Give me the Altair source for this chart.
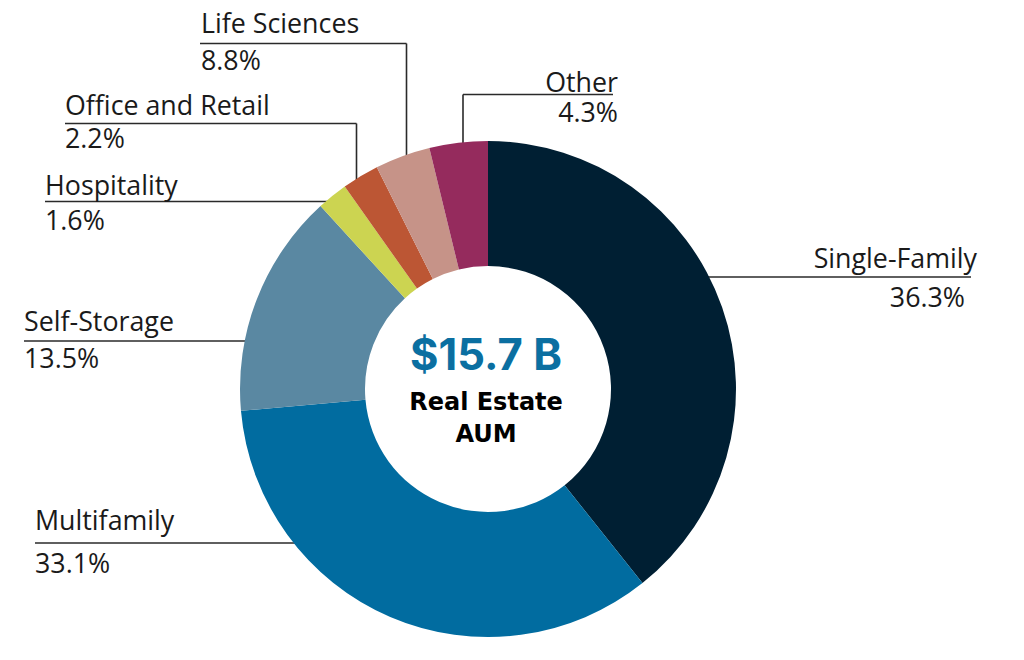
import math
import altair as alt
import pandas as pd

# ---- data ----
categories = ["Single-Family", "Multifamily", "Self-Storage", "Hospitality",
              "Office and Retail", "Life Sciences", "Other"]
pct_labels = ["36.3%", "33.1%", "13.5%", "1.6%", "2.2%", "8.8%", "4.3%"]
# slice sizes as drawn in the picture (measured angles, percent of circle)
drawn_share = [39.3, 34.3, 14.6, 2.0, 2.4, 3.6, 3.8]
colors = ["#001f33", "#016ca0", "#5a88a2", "#ccd451", "#bc5634", "#c69388", "#952b5d"]
center_value = "$15.7 B"
center_caption = ["Real Estate", "AUM"]

# ---- layout (page pixel coordinates) ----
W, H = 1008, 644
CX, CY = 488, 389
R_OUT, R_IN = 248, 123

# label anchor: name position, pct position, align, leader line y, start x, elbow x (or None)
layout = {
    "Life Sciences":     dict(nx=201, ny=33,  py=70,  align="left",  ly=43.5,  lx=200, ex=406.5),
    "Office and Retail": dict(nx=65,  ny=115, py=148, align="left",  ly=123.5, lx=65,  ex=356.5),
    "Hospitality":       dict(nx=45,  ny=195, py=230, align="left",  ly=201.5, lx=45,  ex=None),
    "Self-Storage":      dict(nx=24,  ny=331, py=368, align="left",  ly=341,   lx=24,  ex=None),
    "Multifamily":       dict(nx=35,  ny=530, py=573, align="left",  ly=543,   lx=35,  ex=None),
    "Other":             dict(nx=618, ny=92,  py=122, align="right", ly=94.5,  lx=613, ex=463),
    "Single-Family":     dict(nx=977, ny=268, py=307, align="right", ly=277,   lx=971, ex=None),
}
pct_x_shift = {"Single-Family": -12}

slices = pd.DataFrame({"cat": categories, "share": drawn_share,
                       "idx": list(range(len(categories)))})

label_rows, seg_rows = [], []
r_in_edge = R_OUT - 8
for cat, pct in zip(categories, pct_labels):
    L = layout[cat]
    label_rows.append(dict(cat=cat, txt=cat, x=L["nx"], y=L["ny"], align=L["align"], kind="name"))
    label_rows.append(dict(cat=cat, txt=pct, x=L["nx"] + pct_x_shift.get(cat, 0), y=L["py"],
                           align=L["align"], kind="pct"))
    if L["ex"] is None:
        dx = math.sqrt(r_in_edge ** 2 - (L["ly"] - CY) ** 2)
        xe = CX - dx if L["align"] == "left" else CX + dx
        seg_rows.append(dict(x=L["lx"], x2=xe, y=L["ly"], y2=L["ly"]))
    else:
        seg_rows.append(dict(x=L["lx"], x2=L["ex"], y=L["ly"], y2=L["ly"]))
        ye = CY - math.sqrt(r_in_edge ** 2 - (L["ex"] - CX) ** 2)
        seg_rows.append(dict(x=L["ex"], x2=L["ex"], y=L["ly"], y2=ye))

labels = pd.DataFrame(label_rows)
segs = pd.DataFrame(seg_rows)
center = pd.DataFrame([
    dict(txt=center_value, x=486, y=370, kind="value"),
    dict(txt=center_caption[0], x=486, y=410, kind="cap"),
    dict(txt=center_caption[1], x=486, y=442, kind="cap"),
])

xs = alt.Scale(domain=[8, 8 + W], range=[0, W])
ys = alt.Scale(domain=[8, 8 + H], range=[0, H])

rules = alt.Chart(segs).mark_rule(color="#2a2a2a", strokeWidth=1.6).encode(
    x=alt.X("x:Q", scale=xs, axis=None), x2="x2:Q",
    y=alt.Y("y:Q", scale=ys, axis=None), y2="y2:Q",
)

donut = alt.Chart(slices).mark_arc(outerRadius=R_OUT, innerRadius=R_IN).encode(
    theta=alt.Theta("share:Q", stack=True),
    color=alt.Color("cat:N", scale=alt.Scale(domain=categories, range=colors), legend=None),
    order=alt.Order("idx:Q"),
    x=alt.value(CX - 8), y=alt.value(CY - 8),
)

def text_layer(align):
    return alt.Chart(labels).transform_filter(
        alt.datum.align == align
    ).mark_text(align=align, baseline="alphabetic", font="Open Sans",
                fontSize=26.8, color="#1a1a1a").encode(
        x=alt.X("x:Q", scale=xs, axis=None),
        y=alt.Y("y:Q", scale=ys, axis=None),
        text="txt:N",
    )

center_value_layer = alt.Chart(center).transform_filter(
    alt.datum.kind == "value"
).mark_text(align="center", baseline="alphabetic", font="Inter", fontWeight="bold",
            fontSize=43.5, color="#0b6fa1").encode(
    x=alt.X("x:Q", scale=xs, axis=None), y=alt.Y("y:Q", scale=ys, axis=None), text="txt:N")

center_cap_layer = alt.Chart(center).transform_filter(
    alt.datum.kind == "cap"
).mark_text(align="center", baseline="alphabetic", font="DejaVu Sans", fontWeight="bold",
            fontSize=24, color="#000000").encode(
    x=alt.X("x:Q", scale=xs, axis=None), y=alt.Y("y:Q", scale=ys, axis=None), text="txt:N")

chart = alt.layer(
    rules, donut, text_layer("left"), text_layer("right"), center_value_layer, center_cap_layer
).properties(
    width=W, height=H, padding=0, autosize=alt.AutoSizeParams(type="none"), background="white"
).configure_view(stroke=None)

chart.save("out.html", embed_options={"renderer": "svg", "actions": False})
